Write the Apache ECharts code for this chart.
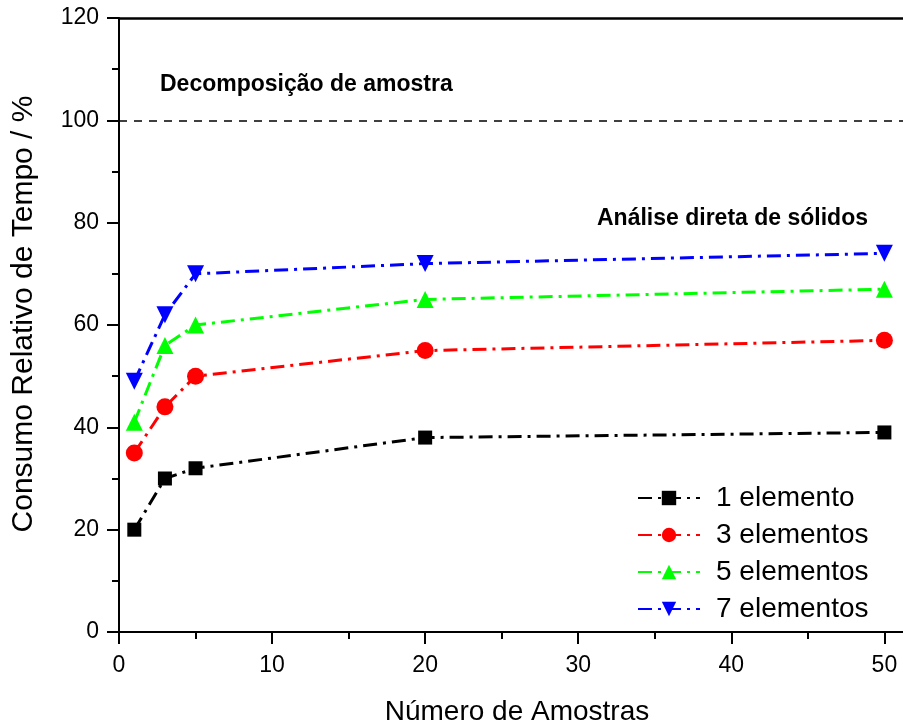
<!DOCTYPE html>
<html><head><meta charset="utf-8">
<script src="https://cdn.jsdelivr.net/npm/echarts@6/dist/echarts.min.js"></script>
<style>html,body{margin:0;padding:0;background:#fff}#c{width:903px;height:726px}</style>
</head><body><div id="c"></div>
<script>
const xValues = [1, 3, 5, 20, 50];
const seriesNames = ['1 elemento', '3 elementos', '5 elementos', '7 elementos'];
const s1 = [20, 30, 32, 38, 39];
const s3 = [35, 44, 50, 55, 57];
const s5 = [41, 56, 60, 65, 67];
const s7 = [49, 62, 70, 72, 74];
const refLine = 100;
const annotations = ['Decomposição de amostra', 'Análise direta de sólidos'];
const xAxisTitle = 'Número de Amostras';
const yAxisTitle = 'Consumo Relativo de Tempo / %';

const colors = ['#000000', '#ff0000', '#00ff00', '#0000ff'];
const symbols = ['rect', 'circle', 'triangle', 'triangle'];
const rotates = [0, 0, 0, 180];
const sizes = [14, 17, 17, 17];
const allData = [s1, s3, s5, s7];
const font = 'Liberation Sans, Arial, sans-serif';

const series = allData.map((vals, i) => ({
  name: seriesNames[i],
  type: 'line',
  data: vals.map((v, j) => [xValues[j], v]),
  symbol: symbols[i],
  symbolRotate: rotates[i],
  symbolSize: sizes[i],
  itemStyle: { color: colors[i] },
  lineStyle: { color: colors[i], width: 3, type: [14, 6, 3, 6] },
  z: 3 + i,
  animation: false
}));
series[0].markLine = {
  silent: true, symbol: ['none', 'none'], label: { show: false },
  lineStyle: { color: '#000', type: [8, 7], width: 1.6 },
  data: [{ yAxis: refLine }], animation: false
};

const chart = echarts.init(document.getElementById('c'));
chart.setOption({
  backgroundColor: '#fff',
  animation: false,
  grid: { left: 119, top: 18, bottom: 94, right: -12, containLabel: false, outerBoundsMode: 'none' },
  xAxis: [{
    type: 'value', min: 0, max: 52, interval: 10,
    name: xAxisTitle, nameLocation: 'middle', nameGap: 66,
    nameTextStyle: { fontSize: 28, fontFamily: font, color: '#000' },
    axisLine: { lineStyle: { color: '#000', width: 2 } },
    axisTick: { show: true, length: 12, inside: false, lineStyle: { color: '#000', width: 2 } },
    minorTick: { show: true, splitNumber: 2, length: 7, lineStyle: { color: '#000', width: 2 } },
    axisLabel: { fontSize: 23, fontFamily: font, color: '#000', margin: 22,
      formatter: v => (v % 10 === 0 && v <= 50) ? String(v) : '' },
    splitLine: { show: false }
  }, {
    type: 'value', min: 0, max: 52, position: 'top',
    axisLine: { show: true, lineStyle: { color: '#000', width: 2.5 } },
    axisTick: { show: false }, axisLabel: { show: false }, splitLine: { show: false }
  }],
  yAxis: {
    type: 'value', min: 0, max: 120, interval: 20,
    axisLine: { show: true, lineStyle: { color: '#000', width: 2 } },
    axisTick: { show: true, length: 12, lineStyle: { color: '#000', width: 2 } },
    minorTick: { show: true, splitNumber: 2, length: 7, lineStyle: { color: '#000', width: 2 } },
    axisLabel: { fontSize: 23, fontFamily: font, color: '#000', margin: 20 },
    splitLine: { show: false }
  },
  legend: {
    orient: 'vertical', left: 637, top: 484, padding: 0,
    itemWidth: 62, itemHeight: 18, itemGap: 9,
    textStyle: { fontSize: 28, fontFamily: font, color: '#000', padding: [0, 0, 0, 11] },
    data: seriesNames
  },
  graphic: [
    { type: 'text', left: 160, top: 73, style: { text: annotations[0], font: 'bold 23px ' + font, fill: '#000' } },
    { type: 'text', left: 597, top: 207, style: { text: annotations[1], font: 'bold 23px ' + font, fill: '#000' } },
    { type: 'text', x: 24, y: 314, rotation: Math.PI / 2,
      style: { text: yAxisTitle, font: '30px ' + font, fill: '#000', align: 'center', verticalAlign: 'middle' } }
  ],
  series: series
});
</script></body></html>
